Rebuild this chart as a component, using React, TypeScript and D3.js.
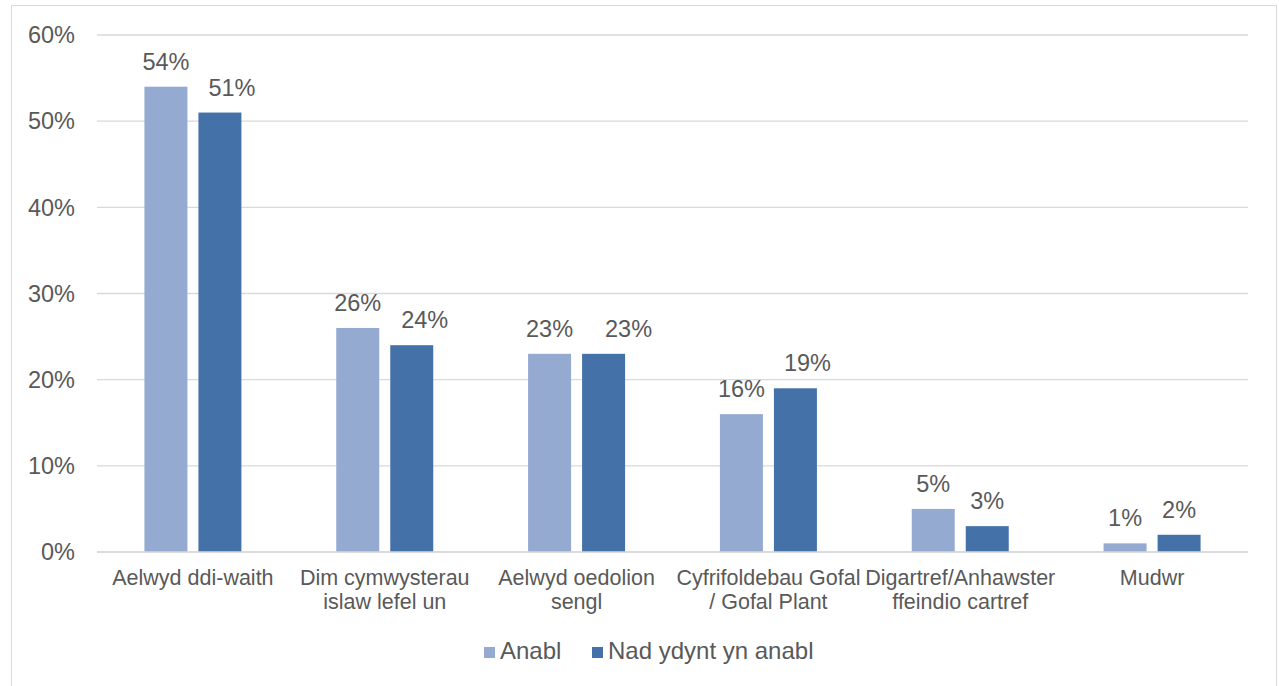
import React from "react";
import * as d3 from "d3";

const categories: string[][] = [
  ["Aelwyd ddi-waith"],
  ["Dim cymwysterau", "islaw lefel un"],
  ["Aelwyd oedolion", "sengl"],
  ["Cyfrifoldebau Gofal", "/ Gofal Plant"],
  ["Digartref/Anhawster", "ffeindio cartref"],
  ["Mudwr"],
];
const seriesNames = ["Anabl", "Nad ydynt yn anabl"];
const anabl = [54, 26, 23, 16, 5, 1];
const nadAnabl = [51, 24, 23, 19, 3, 2];
const yTicks = [0, 10, 20, 30, 40, 50, 60];
const colors = ["#95AAD1", "#4472A8"];

// horizontal nudges of the data labels (as placed in the original)
const labelShift = [
  [0, 0, 0, 0, 0, 0],
  [12, 13, 25, 12, 0, 0],
];

export default function App() {
  const W = 1279, H = 686;
  const left = 97, right = 1248, top = 35, bottom = 552;
  const x = d3.scaleBand<number>().domain(d3.range(categories.length)).range([left, right]);
  const y = d3.scaleLinear().domain([0, 60]).range([bottom, top]);
  const barW = 43;
  const gap = 11;
  const series = [anabl, nadAnabl];
  const font = "Liberation Sans, Arial, sans-serif";
  const textColor = "#595959";
  return (
    <svg width={W} height={H} style={{ position: "absolute", left: 0, top: 0 }} fontFamily={font}>
      <rect x={0} y={0} width={W} height={H} fill="#fff" />
      <rect x={11.5} y={5.5} width={1265} height={700} fill="#fff" stroke="#D9D9D9" strokeWidth={1} />
      {yTicks.map((t) => (
        <g key={t}>
          <line x1={left} x2={right} y1={y(t)} y2={y(t)} stroke="#D9D9D9" strokeWidth={1.3} />
          <text x={75} y={y(t)} dy="0.35em" textAnchor="end" fontSize={23.5} fill={textColor}>
            {t}%
          </text>
        </g>
      ))}
      {categories.map((c, i) => {
        const cx = x(i)! + x.bandwidth() / 2;
        return (
          <g key={i}>
            {series.map((s, j) => {
              const bx = j === 0 ? cx - gap / 2 - barW : cx + gap / 2;
              return (
                <g key={j}>
                  <rect x={bx} y={y(s[i])} width={barW} height={bottom - y(s[i])} fill={colors[j]} />
                  <text
                    x={bx + barW / 2 + labelShift[j][i]}
                    y={y(s[i]) - 17}
                    textAnchor="middle"
                    fontSize={23.5}
                    fill={textColor}
                  >
                    {s[i]}%
                  </text>
                </g>
              );
            })}
            {c.map((line, k) => (
              <text key={k} x={cx} y={585 + k * 24} textAnchor="middle" fontSize={21.5} fill={textColor}>
                {line}
              </text>
            ))}
          </g>
        );
      })}
      <line x1={left} x2={right} y1={bottom} y2={bottom} stroke="#D9D9D9" strokeWidth={1.3} />
      <g>
        <rect x={484} y={647} width={11} height={11} fill={colors[0]} />
        <text x={500} y={659} fontSize={24} fill={textColor}>{seriesNames[0]}</text>
        <rect x={592} y={647} width={11} height={11} fill={colors[1]} />
        <text x={608} y={659} fontSize={24} fill={textColor}>{seriesNames[1]}</text>
      </g>
    </svg>
  );
}
